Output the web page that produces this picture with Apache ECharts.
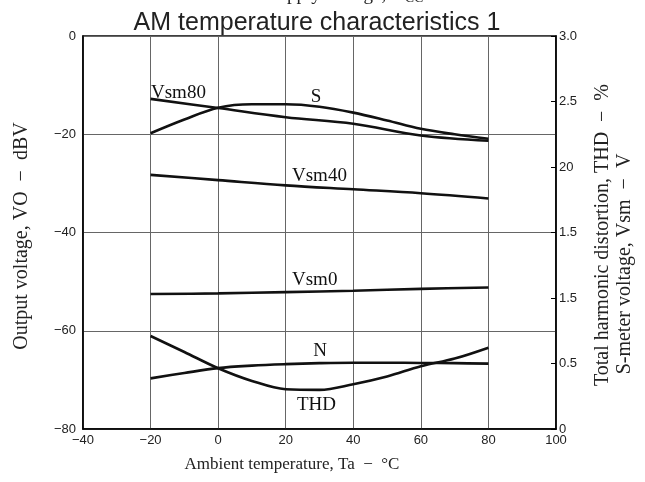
<!DOCTYPE html>
<html>
<head>
<meta charset="utf-8">
<script src="https://cdn.jsdelivr.net/npm/echarts@6/dist/echarts.min.js"></script>
<style>
  html, body { margin: 0; padding: 0; background: #fff; }
  #chart { width: 645px; height: 482px; }
</style>
</head>
<body>
<div id="chart"></div>
<script>
// Ambient temperature sample points (°C)
const temps = [-20, -10, 0, 10, 20, 30, 40, 50, 60, 70, 80];
// S: signal output level (dBV, left axis)
const sLevel = [-19.8, -17.0, -14.6, -13.9, -13.9, -14.4, -15.6, -17.2, -18.9, -20.0, -20.9];
// N: noise output level (dBV, left axis)
const nLevel = [-69.7, -68.6, -67.6, -67.1, -66.8, -66.6, -66.5, -66.5, -66.55, -66.6, -66.7];
// THD (% , right axis)
const thd = [0.71, 0.588, 0.464, 0.367, 0.304, 0.299, 0.342, 0.401, 0.479, 0.538, 0.621];

// S-meter voltage (V, right axis) at 20 °C steps
const vsmTemps = [-20, 0, 20, 40, 60, 80];
const vsm80 = [2.52, 2.45, 2.38, 2.33, 2.24, 2.20];
const vsm40 = [1.94, 1.90, 1.86, 1.83, 1.80, 1.76];
const vsm0 = [1.03, 1.035, 1.045, 1.055, 1.07, 1.08];

// Right-axis tick labels, bottom to top
const rightTickLabels = ['0', '0.5', '1.5', '1.5', '20', '2.5', '3.0'];

const SERIF = '"Liberation Serif", "DejaVu Serif", serif';
const SANS = '"Liberation Sans", Arial, sans-serif';
const minus = v => String(v).replace('-', '\u2212');

function pairs(xs, ys) { return xs.map((x, i) => [x, ys[i]]); }

function curve(name, xs, ys, axis) {
  return {
    name, type: 'line', yAxisIndex: axis,
    data: pairs(xs, ys),
    showSymbol: false, smooth: 0.35,
    lineStyle: { color: '#111', width: 2.6 },
    z: 5, silent: true
  };
}

function label(text, x, y, align) {
  return {
    type: 'text', x, y, z: 10,
    style: { text, font: '19px ' + SERIF, fill: '#111', align: align || 'left', verticalAlign: 'middle' }
  };
}

const chart = echarts.init(document.getElementById('chart'), null, { renderer: 'canvas' });
chart.setOption({
  animation: false,
  backgroundColor: '#fff',
  grid: { left: 83, right: 89, top: 36, bottom: 53, show: true, borderColor: '#000', borderWidth: 1.5 },
  xAxis: {
    type: 'value', min: -40, max: 100, interval: 20,
    axisLine: { show: true, onZero: false, lineStyle: { color: '#000', width: 1.5 } },
    axisTick: { show: false },
    splitLine: { show: true, lineStyle: { color: '#666', width: 1 } },
    axisLabel: { color: '#222', fontFamily: SANS, fontSize: 13, margin: 5, formatter: minus }
  },
  yAxis: [
    {
      type: 'value', min: -80, max: 0, interval: 20,
      axisLine: { show: true, onZero: false, lineStyle: { color: '#000', width: 1.5 } },
      axisTick: { show: false },
      splitLine: { show: true, lineStyle: { color: '#666', width: 1 } },
      axisLabel: { color: '#222', fontFamily: SANS, fontSize: 13, margin: 7, formatter: minus }
    },
    {
      type: 'value', position: 'right', min: 0, max: 3, interval: 0.5,
      axisLine: { show: true, onZero: false, lineStyle: { color: '#000', width: 1.5 } },
      axisTick: { show: true, inside: true, length: 5, lineStyle: { color: '#000', width: 1 } },
      splitLine: { show: false },
      axisLabel: {
        color: '#222', fontFamily: SANS, fontSize: 13, margin: 3,
        formatter: v => rightTickLabels[Math.round(v / 0.5)]
      }
    }
  ],
  series: [
    curve('S', temps, sLevel, 0),
    curve('N', temps, nLevel, 0),
    curve('THD', temps, thd, 1),
    curve('Vsm80', vsmTemps, vsm80, 1),
    curve('Vsm40', vsmTemps, vsm40, 1),
    curve('Vsm0', vsmTemps, vsm0, 1)
  ],
  graphic: [
    {
      type: 'text', x: 267, y: -5,
      style: {
        text: '{a|Supply voltage, V}{b|CC}', fill: '#222',
        rich: { a: { font: '19px ' + SERIF, fill: '#222' }, b: { font: '14px ' + SERIF, fill: '#222', padding: [6, 0, 0, 0] } },
        verticalAlign: 'middle'
      }
    },
    {
      type: 'text', x: 317, y: 23,
      style: { text: 'AM temperature characteristics 1', font: '25px ' + SANS, fill: '#222', align: 'center', verticalAlign: 'middle' }
    },
    {
      type: 'text', x: 22, y: 236, rotation: Math.PI / 2,
      style: { text: 'Output voltage, VO  \u2212  dBV', font: '20px ' + SERIF, fill: '#222', align: 'center', verticalAlign: 'middle' }
    },
    {
      type: 'text', x: 603, y: 235, rotation: Math.PI / 2,
      style: { text: 'Total harmonic distortion, THD  \u2212  %', font: '20px ' + SERIF, fill: '#222', align: 'center', verticalAlign: 'middle' }
    },
    {
      type: 'text', x: 625, y: 264, rotation: Math.PI / 2,
      style: { text: 'S-meter voltage, Vsm  \u2212  V', font: '20px ' + SERIF, fill: '#222', align: 'center', verticalAlign: 'middle' }
    },
    {
      type: 'text', x: 292, y: 465,
      style: { text: 'Ambient temperature, Ta  \u2212  \u00b0C', font: '17px ' + SERIF, fill: '#222', align: 'center', verticalAlign: 'middle' }
    },
    label('Vsm80', 151, 93),
    label('S', 316, 97, 'center'),
    label('Vsm40', 292, 176),
    label('Vsm0', 292, 280),
    label('N', 320, 351, 'center'),
    label('THD', 297, 405)
  ]
});
</script>
</body>
</html>
